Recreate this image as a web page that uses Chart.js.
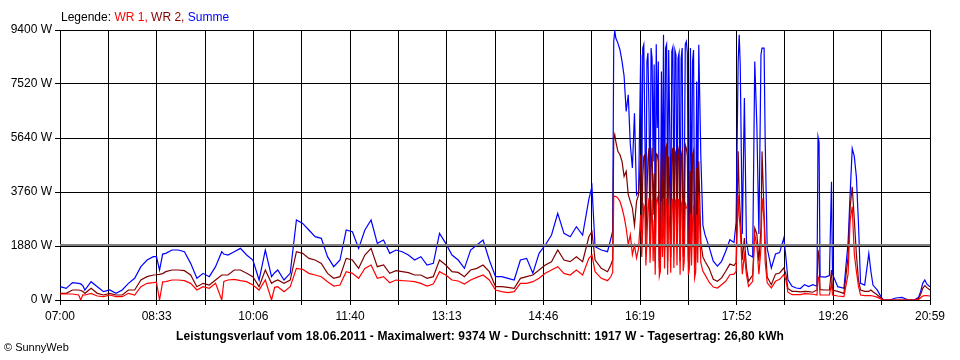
<!DOCTYPE html>
<html lang="de">
<head>
    <meta charset="UTF-8">
    <title>Leistungsverlauf 18.06.2011</title>
    <script src="https://cdn.jsdelivr.net/npm/chart.js"></script>
    <style>
        body { margin: 0; background: #fff; }
        .wrap { position: relative; width: 960px; height: 360px; font-family: "Liberation Sans", Arial, sans-serif; }
        .legend { position: absolute; left: 61px; top: 10px; font-size: 12px; color: #000; }
        .title { position: absolute; left: 0; width: 960px; top: 329px; text-align: center; font-size: 12px; font-weight: bold; letter-spacing: 0.12px; }
        .copy { position: absolute; left: 4px; top: 341px; font-size: 11px; }
    </style>
</head>
<body>
<div class="wrap">
    <canvas id="powerChart" width="960" height="360"></canvas>
    <div class="legend">Legende: <span style="color:#ff0000">WR 1,</span> <span style="color:#800000">WR 2,</span> <span style="color:#0000ff">Summe</span></div>
    <div class="title">Leistungsverlauf vom 18.06.2011 - Maximalwert: 9374 W - Durchschnitt: 1917 W - Tagesertrag: 26,80 kWh</div>
    <div class="copy">© SunnyWeb</div>
</div>
<script>
// minutes after 07:00
const minutes = [0,6,12,18,20,22,24,30,36,42,48,54,60,66,72,78,84,90,93,96,99,102,108,114,120,126,132,138,
    144,150,156,158,162,168,174,180,186,192,198,204,207,210,216,222,228,234,240,246,252,258,264,270,276,282,
    288,294,300,306,312,318,324,330,336,342,348,354,360,366,372,378,384,390,396,402,408,414,
    420,426,432,438,444,450,456,462,468,474,480,486,492,498,504,510,513,516,522,528,531,533,534,535,
    536,538,540,542,544,546,548,550,552,554,556,558,
    560,561,562,563,564,565,566,567,568,569,570,571,572,573,574,575,576,577,578,579,
    580,581,582,583,584,585,586,587,588,589,590,591,592,593,594,595,596,597,598,599,
    600,601,602,603,604,605,606,607,608,609,610,611,612,613,614,615,616,618,620,
    622,626,630,634,638,642,646,650,652,654,655,656,658,660,662,664,668,670,672,674,676,677,679,680,682,686,
    690,694,698,700,702,706,710,714,718,722,726,730,731,732,733,738,742,744,745,750,756,760,762,764,766,768,770,
    772,776,780,782,784,788,792,794,800,806,812,818,824,828,830,832,834,836,839];

const summe = [464,406,603,580,560,500,348,638,464,290,348,232,348,580,754,1160,1392,1508,1508,1044,1600,1624,1740,1740,1682,1276,754,928,
    812,1160,1682,1600,1566,1682,1798,1566,1392,696,1740,812,950,1044,696,928,2784,2668,2436,2204,2146,1508,1160,1392,2436,2378,
    1798,2436,2784,1972,2088,1624,1740,1682,1566,1392,1508,1218,1276,2320,1972,1566,1392,1102,1740,1914,2088,1392,
    812,812,754,696,1392,1450,928,1624,1914,2262,3016,2320,2204,2552,2262,3500,3950,1856,1740,1682,2100,2400,9000,9374,
    9118,8944,8712,8306,7800,6566,7146,5406,4594,6500,3666,3782,
    8538,3200,8770,8900,5986,2600,8306,8600,6566,3000,8770,8400,4826,8200,2274,8900,5986,8300,1346,2200,
    7958,3400,9234,2400,8770,8900,2970,8700,5986,2100,8654,8800,2738,8700,8538,2500,8422,8600,1578,8400,
    8770,2000,3666,8900,9002,8600,1926,2300,8770,2600,8306,8700,1810,2200,7610,3000,8886,5000,2600,
    2274,1850,1350,1180,1346,1700,2100,2000,2700,8306,9234,8190,2300,7030,2042,1578,1500,8306,6102,2300,8538,8770,8770,5638,1800,1114,
    1600,1650,2158,1500,700,476,418,400,534,470,534,480,5684,5500,812,800,850,4118,900,464,406,2000,3712,5278,5000,4292,2700,
    580,520,1624,1000,520,350,100,0,0,70,93,0,0,100,300,580,700,550,464];

const wr2 = [232,232,348,348,330,300,232,406,232,174,232,174,174,348,348,696,812,870,880,893,920,986,1044,1044,1021,870,464,580,
    522,696,870,870,870,1044,1044,928,812,464,1044,580,650,696,580,696,1682,1624,1450,1392,1276,928,754,812,1450,1392,
    1102,1566,1798,1160,1218,928,1021,986,951,870,870,754,812,1392,1218,986,960,812,1044,1102,1218,986,
    464,464,440,406,754,812,870,1044,1218,1334,1740,1392,1334,1508,1334,2200,2380,1392,1102,986,1200,1400,5600,5754,
    5522,5174,5058,4826,4300,4478,3666,3434,3202,2600,3434,3666,
    5058,2300,4246,5000,5058,1800,3666,4900,5290,2000,4594,5300,2970,4400,1346,5100,5058,4800,1114,1500,
    5174,2400,5522,1700,5290,5400,1346,5000,3898,1500,5058,5300,2042,5200,5058,1900,5116,5300,1346,5000,
    5174,1500,2274,5400,5290,5000,1346,1700,4478,1900,5058,5200,1114,1400,4594,2000,4826,2000,1500,
    1346,1100,720,650,770,1000,1250,1200,1300,5174,3666,3000,1400,2158,1114,650,870,2506,2300,1346,2506,5174,3000,2000,800,534,
    900,940,1114,900,400,302,302,280,302,290,270,350,1740,1500,360,348,348,1044,348,300,232,1500,3248,3944,2800,1600,700,
    348,300,300,350,290,180,60,0,0,0,0,0,0,50,200,406,500,430,348];

const wr1 = [209,209,209,174,0,180,174,232,139,116,174,116,116,232,174,464,580,603,620,0,630,638,696,696,673,580,348,464,
    406,580,0,650,696,719,673,638,522,348,696,0,440,464,290,464,1102,1067,928,870,812,638,487,522,986,928,
    754,1102,1218,754,812,603,696,673,661,638,580,487,557,986,870,696,661,557,696,789,870,696,
    348,290,255,290,580,580,638,754,928,1044,1160,928,870,1044,870,1450,1566,986,754,673,800,960,3600,3608,
    3608,3550,3434,3202,2900,2506,1926,2274,1578,1900,1462,1810,
    2970,1500,2506,3300,3202,1200,2042,3200,3550,1300,2506,3500,1346,2800,882,3400,3550,3300,824,1000,
    3434,1500,3550,1100,3434,3500,882,3300,2506,950,3434,3500,1114,3400,3492,1200,3492,3500,882,3300,
    3434,1000,1346,3400,3202,3200,882,1100,3000,1200,2738,3300,766,950,2970,1300,3700,1300,1000,
    882,620,450,418,534,650,880,900,1000,3666,2900,2500,900,1578,882,476,650,2274,1900,900,1800,3550,2800,1346,600,418,
    650,720,882,700,270,186,186,186,220,210,200,174,812,700,174,174,174,580,174,139,116,900,2784,3248,1600,1000,480,
    174,150,150,150,139,100,30,0,0,0,0,0,0,20,80,139,150,150,139];

const durchschnitt = 1917;
const yTicks = [0, 1880, 3760, 5640, 7520, 9400];
const xLabels = ['07:00','08:33','10:06','11:40','13:13','14:46','16:19','17:52','19:26','20:59'];
const dayMinutes = 839;

function points(values) {
    return values.map((v, i) => ({ x: minutes[i], y: v }));
}

const tickFont = { family: '"Liberation Sans", Arial, sans-serif', size: 12 };

new Chart(document.getElementById('powerChart').getContext('2d'), {
    type: 'line',
    data: {
        datasets: [
            { label: 'Durchschnitt', data: [{ x: 0, y: durchschnitt }, { x: dayMinutes, y: durchschnitt }],
              borderColor: '#808080', borderWidth: 2, pointRadius: 0, order: 0 },
            { label: 'WR 1', data: points(wr1), borderColor: '#ff0000', borderWidth: 1.2, pointRadius: 0, order: 1 },
            { label: 'WR 2', data: points(wr2), borderColor: '#800000', borderWidth: 1.2, pointRadius: 0, order: 2 },
            { label: 'Summe', data: points(summe), borderColor: '#0000ff', borderWidth: 1.2, pointRadius: 0, order: 3 }
        ]
    },
    options: {
        responsive: false,
        animation: false,
        layout: { padding: { top: 30, right: 30, left: 0, bottom: 0 } },
        plugins: { legend: { display: false }, tooltip: { enabled: false } },
        elements: { line: { tension: 0 } },
        scales: {
            x: {
                type: 'linear',
                min: 0,
                max: dayMinutes,
                afterBuildTicks: scale => {
                    scale.ticks = Array.from({ length: 19 }, (_, i) => ({ value: i * dayMinutes / 18 }));
                },
                afterFit: scale => { scale.height = 60; },
                ticks: {
                    autoSkip: false,
                    maxRotation: 0,
                    color: '#000',
                    font: tickFont,
                    padding: 4,
                    callback: (value, index) => index % 2 === 0 ? xLabels[index / 2] : ''
                },
                grid: { color: '#000', lineWidth: 1, tickLength: 5 },
                border: { color: '#000' }
            },
            y: {
                min: 0,
                max: 9400,
                afterBuildTicks: scale => {
                    scale.ticks = yTicks.map(v => ({ value: v }));
                },
                afterFit: scale => { scale.width = 60; },
                ticks: {
                    color: '#000',
                    font: tickFont,
                    padding: 3,
                    callback: v => v + ' W'
                },
                grid: { color: '#000', lineWidth: 1, tickLength: 5 },
                border: { color: '#000' }
            }
        }
    }
});
</script>
</body>
</html>
